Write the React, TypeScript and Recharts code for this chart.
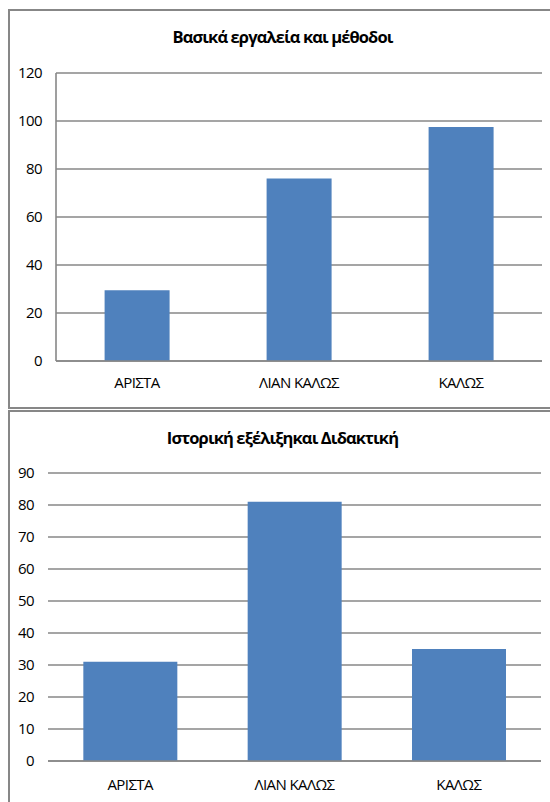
import React from 'react';
import { BarChart, Bar, XAxis, YAxis, CartesianGrid } from 'recharts';

const categories = ['ΑΡΙΣΤΑ', 'ΛΙΑΝ ΚΑΛΩΣ', 'ΚΑΛΩΣ'];
const toolsValues = [29.5, 76, 97.5];
const historyValues = [31, 81, 35];
const toolsTicks = [0, 20, 40, 60, 80, 100, 120];
const historyTicks = [0, 10, 20, 30, 40, 50, 60, 70, 80, 90];
const toolsTitle = 'Βασικά εργαλεία και μέθοδοι';
const historyTitle = 'Ιστορική εξέλιξηκαι Διδακτική';

const toolsData = categories.map((name, i) => ({ name, value: toolsValues[i] }));
const historyData = categories.map((name, i) => ({ name, value: historyValues[i] }));

const GRID = '#878787';
const BAR = '#4F81BD';
const FONT = "'Open Sans', 'Noto Sans', sans-serif";

const tickStyle = { fill: '#000', fontSize: 15, fontFamily: FONT, letterSpacing: '-0.6px' };

const titleStyle: React.CSSProperties = {
  position: 'absolute',
  left: 0,
  width: 565,
  textAlign: 'center',
  fontWeight: 'bold',
  fontSize: 16.5,
  lineHeight: '22px',
  color: '#000',
  letterSpacing: '-0.9px',
};

export default function App() {
  return (
    <div
      style={{
        position: 'absolute',
        left: 0,
        top: 0,
        width: 550,
        height: 802,
        overflow: 'hidden',
        background: '#fff',
        fontFamily: FONT,
        letterSpacing: '-0.6px',
      }}
    >
      <div
        style={{
          position: 'absolute',
          left: 8,
          top: 9,
          width: 600,
          height: 400,
          border: `2px solid ${GRID}`,
          boxSizing: 'border-box',
        }}
      />
      <div
        style={{
          position: 'absolute',
          left: 8,
          top: 410,
          width: 600,
          height: 500,
          border: `2px solid ${GRID}`,
          boxSizing: 'border-box',
        }}
      />
      <div style={{ ...titleStyle, top: 26 }}>{toolsTitle}</div>
      <div style={{ ...titleStyle, top: 427 }}>{historyTitle}</div>

      <div style={{ position: 'absolute', left: 0, top: 0 }}>
        <BarChart
          width={550}
          height={400}
          data={toolsData}
          margin={{ top: 73, right: 8, bottom: 9, left: 0 }}
          barCategoryGap="30%"
        >
          <CartesianGrid horizontal vertical={false} stroke={GRID} strokeWidth={1.6} />
          <XAxis
            dataKey="name"
            height={30}
            tickLine={false}
            tickSize={6}
            tickMargin={10}
            axisLine={{ stroke: GRID, strokeWidth: 1.6 }}
            tick={tickStyle}
            interval={0}
          />
          <YAxis
            width={56}
            domain={[0, 120]}
            ticks={toolsTicks}
            tickLine={false}
            tickSize={6}
            tickMargin={8}
            axisLine={{ stroke: GRID, strokeWidth: 1.6 }}
            tick={tickStyle}
          />
          <Bar dataKey="value" fill={BAR} isAnimationActive={false} />
        </BarChart>
      </div>

      <div style={{ position: 'absolute', left: 0, top: 400 }}>
        <BarChart
          width={550}
          height={402}
          data={historyData}
          margin={{ top: 73, right: 9, bottom: 11, left: 0 }}
          barCategoryGap="21.5%"
        >
          <CartesianGrid horizontal vertical={false} stroke={GRID} strokeWidth={1.6} />
          <XAxis
            dataKey="name"
            height={30}
            tickLine={false}
            tickSize={6}
            tickMargin={12}
            axisLine={{ stroke: GRID, strokeWidth: 1.6 }}
            tick={tickStyle}
            interval={0}
          />
          <YAxis
            width={48}
            domain={[0, 90]}
            ticks={historyTicks}
            tickLine={false}
            tickSize={6}
            tickMargin={8}
            axisLine={false}
            tick={tickStyle}
          />
          <Bar dataKey="value" fill={BAR} isAnimationActive={false} />
        </BarChart>
      </div>
    </div>
  );
}
